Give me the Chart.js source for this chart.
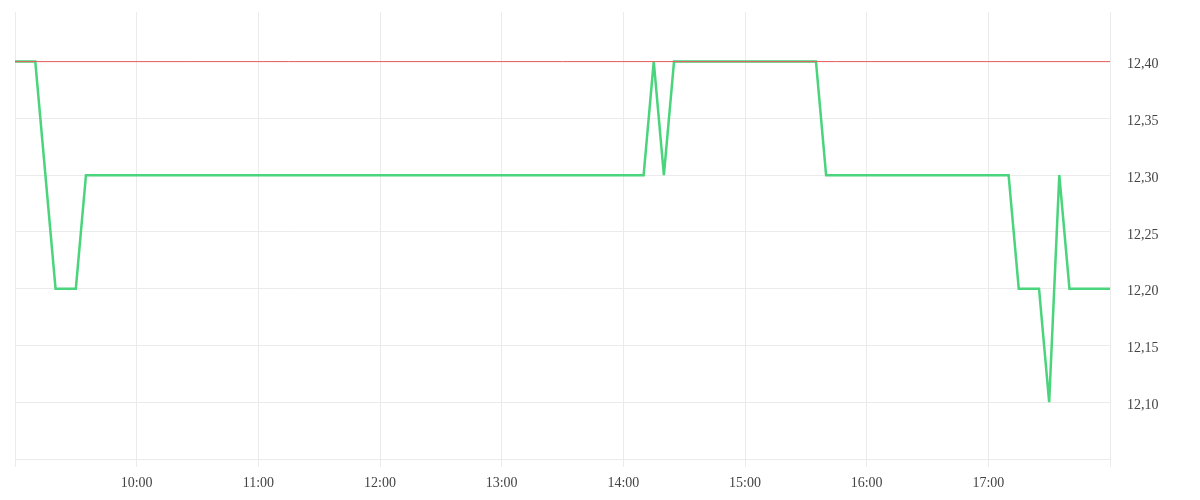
<!DOCTYPE html>
<html>
<head>
<meta charset="utf-8">
<script src="https://cdn.jsdelivr.net/npm/chart.js@4/dist/chart.umd.min.js"></script>
<style>
  html, body { margin: 0; padding: 0; background: #fff; }
</style>
</head>
<body>
<canvas id="price" width="1200" height="500"></canvas>
<script>
const times = ["09:00", "09:10", "09:20", "09:30", "09:35", "14:10", "14:15", "14:20", "14:25",
  "15:35", "15:40", "17:10", "17:15", "17:25", "17:30", "17:35", "17:40", "18:00"];
const prices = [12.40, 12.40, 12.20, 12.20, 12.30, 12.30, 12.40, 12.30, 12.40,
  12.40, 12.30, 12.30, 12.20, 12.20, 12.10, 12.30, 12.20, 12.20];
const prevClose = 12.40;
const yTicks = [12.10, 12.15, 12.20, 12.25, 12.30, 12.35, 12.40];
const dayStart = "09:00";
const dayEnd = "18:00";

function toMin(t) {
  const p = t.split(":");
  return +p[0] * 60 + +p[1];
}
function fmtMin(m) {
  const h = Math.floor(m / 60);
  const mm = m % 60;
  return h + ":" + (mm < 10 ? "0" : "") + mm;
}

const xMin = toMin(dayStart);
const xMax = toMin(dayEnd);
const gridColor = "#ebebeb";
const font = { family: "'Liberation Serif', serif", size: 14 };

new Chart(document.getElementById("price"), {
  type: "line",
  data: {
    datasets: [
      {
        label: "prev close",
        data: [{ x: xMin, y: prevClose }, { x: xMax, y: prevClose }],
        borderColor: "#e85c5c",
        borderWidth: 1,
        pointRadius: 0,
        order: 0,
      },
      {
        label: "price",
        data: times.map((t, i) => ({ x: toMin(t), y: prices[i] })),
        borderColor: "#4ad47c",
        borderWidth: 2.5,
        pointRadius: 0,
        tension: 0,
        order: 1,
      },
    ],
  },
  options: {
    responsive: false,
    animation: false,
    layout: { padding: { left: 15, top: 12 } },
    plugins: { legend: { display: false }, tooltip: { enabled: false } },
    scales: {
      x: {
        type: "linear",
        min: xMin,
        max: xMax,
        grid: { color: gridColor, tickLength: 8 },
        border: { color: gridColor },
        ticks: {
          stepSize: 60,
          padding: 8,
          color: "#444",
          font: font,
          maxRotation: 0,
          callback: (v) => (v === xMin || v === xMax ? "" : fmtMin(v)),
        },
        afterFit: (s) => {
          s.height = 41;
          s.paddingLeft = 0;
          s.paddingRight = 0;
        },
      },
      y: {
        position: "right",
        min: 12.05,
        max: 12.4437,
        grid: { color: gridColor, drawTicks: false },
        border: { color: gridColor },
        afterBuildTicks: (s) => { s.ticks = yTicks.map((v) => ({ value: v })); },
        ticks: {
          padding: 17,
          labelOffset: 3,
          color: "#444",
          font: font,
          callback: (v) => v.toFixed(2).replace(".", ","),
        },
        afterFit: (s) => {
          s.width = 90;
          s.paddingTop = 0;
          s.paddingBottom = 0;
        },
      },
    },
  },
});
</script>
</body>
</html>
